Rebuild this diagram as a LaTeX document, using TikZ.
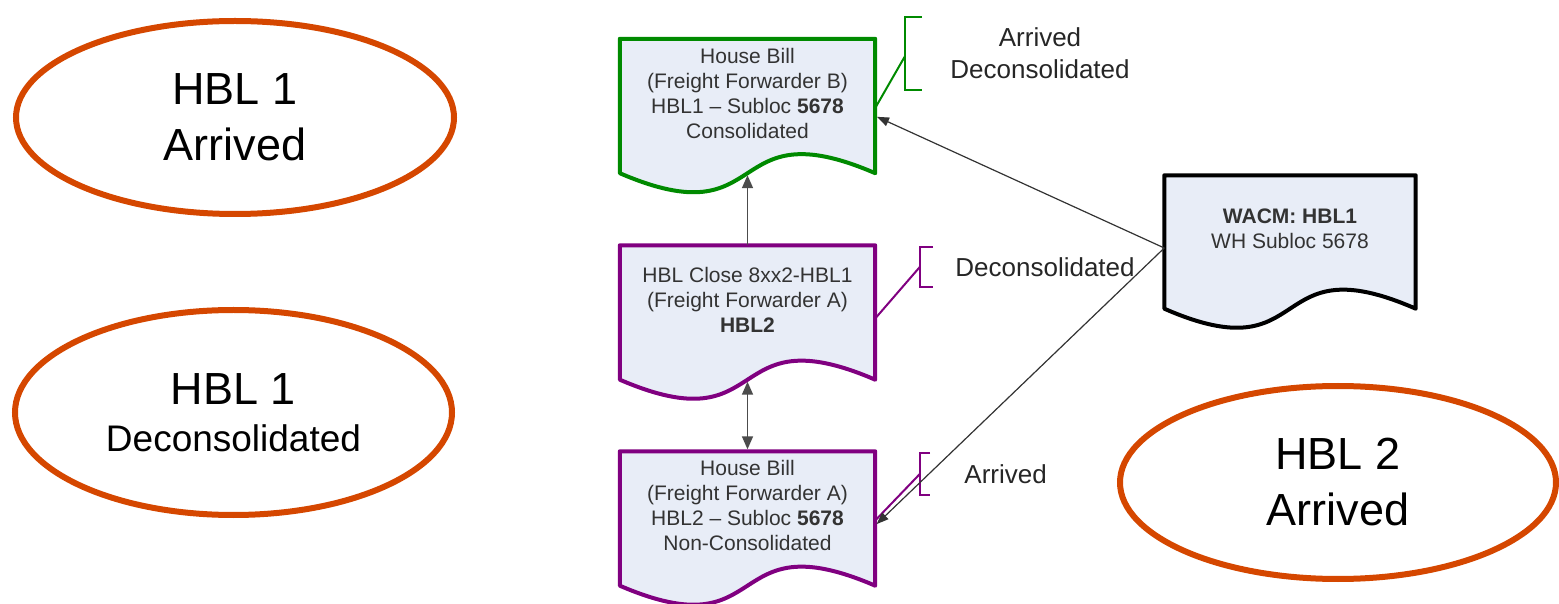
\documentclass[tikz,border=0pt]{standalone}
\usepackage{fontspec}
\setmainfont{Liberation Sans}
\usepackage{xcolor}
\usepackage{tikz}
\usetikzlibrary{shapes,arrows,positioning,calc,arrows.meta}

\definecolor{ovalred}{RGB}{213,71,0}
\definecolor{hblgreen}{RGB}{0,138,0}
\definecolor{hblpurple}{RGB}{128,0,128}
\definecolor{docfill}{RGB}{232,237,247}

\tikzset{
  oval/.style={ellipse, draw=ovalred, line width=6pt, inner sep=0pt, align=center, font=\fontsize{45}{56}\selectfont},
  docbox/.style={rectangle, minimum width=255pt, minimum height=134pt, inner sep=0pt},
  docedge/.style={fill=docfill, line width=4pt, line join=round},
  doctext/.style={align=center, inner sep=0pt, text=black!80, font=\fontsize{21}{25}\selectfont},
  bracket/.style={rectangle, inner sep=0pt},
  bracketedge/.style={line width=2pt},
  note/.style={align=center, inner sep=0pt, text=black!85, font=\fontsize{26}{32}\selectfont},
  flow/.style={draw=black!70, line width=1.6pt, shorten >=2pt, -{Triangle[length=13pt,width=11pt]}},
  flowboth/.style={draw=black!70, line width=1.6pt, shorten >=2pt, shorten <=2pt, {Triangle[length=13pt,width=11pt]}-{Triangle[length=13pt,width=11pt]}},
  link/.style={draw=black!80, line width=1.2pt, shorten >=2pt, -{Triangle[length=12pt,width=9pt]}}
}

% document outline with a wavy bottom
\newcommand{\docshape}[2]{%
  \filldraw[docedge, draw=#2] (#1.south east) -- (#1.north east) -- (#1.north west) -- (#1.south west)
    .. controls ($(#1.south west)!0.6!(#1.south east)+(0,-66)$) and ($(#1.south west)!0.4!(#1.south east)+(0,66)$) .. (#1.south east) -- cycle;}
% annotation bracket
\newcommand{\bracketshape}[2]{%
  \draw[bracketedge, draw=#2] (#1.north east) -- (#1.north west) -- (#1.south west) -- (#1.south east);}

\begin{document}
\begin{tikzpicture}[x=1pt,y=1pt]
  \useasboundingbox (0,0) rectangle (1559,603);

  % status ovals
  \node[oval, minimum width=438pt, minimum height=193pt] (arrone) at (235,485.5) {HBL 1\\Arrived};
  \node[oval, minimum width=437pt, minimum height=205pt] (deconone) at (233.5,190.5) {HBL 1\\[-9pt]{\fontsize{37}{44}\selectfont Deconsolidated}};
  \node[oval, minimum width=436pt, minimum height=193pt] (arrtwo) at (1338,120.5) {HBL 2\\Arrived};

  % documents
  \node[docbox] (hbb) at (747.5,497) {};
  \node[docbox] (close) at (747.5,290.5) {};
  \node[docbox] (hba) at (747.5,84.5) {};
  \node[docbox, minimum width=251pt, minimum height=133pt] (wacm) at (1290,361) {};
  \docshape{hbb}{hblgreen}
  \docshape{close}{hblpurple}
  \docshape{hba}{hblpurple}
  \docshape{wacm}{black}

  \node[doctext] (hbbtext) at ([yshift=13pt]hbb.center) {House Bill\\(Freight Forwarder B)\\HBL1 -- Subloc \textbf{5678}\\Consolidated};
  \node[doctext] (closetext) at ([yshift=13pt]close.center) {HBL Close 8xx2-HBL1\\(Freight Forwarder A)\\\textbf{HBL2}};
  \node[doctext] (hbatext) at ([yshift=13pt]hba.center) {House Bill\\(Freight Forwarder A)\\HBL2 -- Subloc \textbf{5678}\\Non-Consolidated};
  \node[doctext] (wacmtext) at ([yshift=13pt]wacm.center) {\textbf{WACM: HBL1}\\WH Subloc 5678};

  % brackets and notes
  \node[bracket, minimum width=17pt, minimum height=73pt] (brone) at (913.5,549.5) {};
  \node[bracket, minimum width=13pt, minimum height=40pt] (brtwo) at (926.5,336) {};
  \node[bracket, minimum width=10pt, minimum height=42pt] (brthree) at (925,129) {};
  \bracketshape{brone}{hblgreen}
  \bracketshape{brtwo}{hblpurple}
  \bracketshape{brthree}{hblpurple}
  \draw[bracketedge, hblgreen] ([yshift=-3pt]brone.west) -- ([yshift=-2pt]hbb.east);
  \draw[bracketedge, hblpurple] (brtwo.west) -- ([yshift=-6pt]close.east);
  \draw[bracketedge, hblpurple] (brthree.west) -- ([yshift=-2pt]hba.east);

  \node[note, right=28pt of brone] (notehbb) {Arrived\\Deconsolidated};
  \node[note, right=22pt of brtwo] (noteclose) {Deconsolidated};
  \node[note, right=34pt of brthree] (notehba) {Arrived};

  % connectors
  \draw[flow] (close.north) -- (hbb.south);
  \draw[flowboth] (close.south) -- (hba.north);
  \draw[link] ([yshift=-6pt]wacm.west) -- ([yshift=-10pt]hbb.east);
  \draw[link] ([yshift=-6pt]wacm.west) -- ([yshift=-7pt]hba.east);
\end{tikzpicture}
\end{document}
